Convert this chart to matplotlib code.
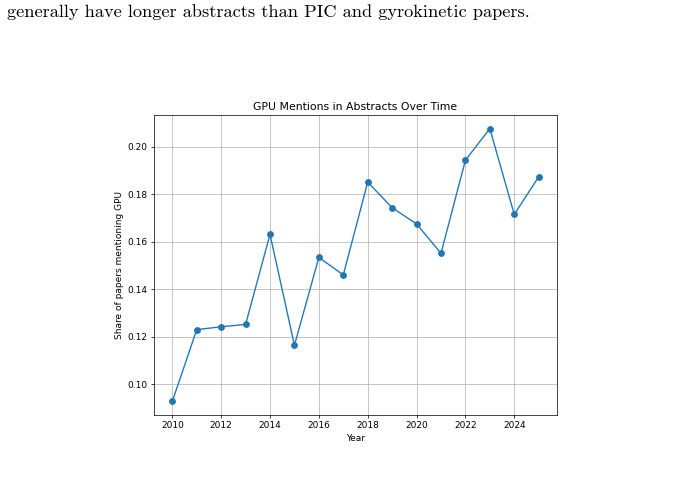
import matplotlib.pyplot as plt

years = [2010, 2011, 2012, 2013, 2014, 2015, 2016, 2017,
         2018, 2019, 2020, 2021, 2022, 2023, 2024, 2025]
gpu_share = [0.0929, 0.1231, 0.1243, 0.1253, 0.1632, 0.1165, 0.1535, 0.1461,
             0.1852, 0.1744, 0.1676, 0.1552, 0.1944, 0.2077, 0.1716, 0.1874]
caption = "generally have longer abstracts than PIC and gyrokinetic papers."

W, H = 675, 486
k = 0.65  # the plot was an 8x6 figure shrunk into the page
fig = plt.figure(figsize=(W / 100, H / 100), dpi=100)

# text of the page above the figure
fig.text(7 / W, 1 - 17 / H, caption, family='cmr10', fontsize=13.2,
         ha='left', va='baseline')

# axes placed in pixels: left 154, right 557, top 115, bottom 415
ax = fig.add_axes([154 / W, 1 - 415 / H, (557 - 154) / W, (415 - 115) / H])
ax.plot(years, gpu_share, marker='o', color='#1f77b4', lw=1.5 * k, ms=6 * k)
ax.set_title('GPU Mentions in Abstracts Over Time', fontsize=12 * k, pad=6 * k)
ax.set_xlabel('Year', fontsize=10 * k, labelpad=4 * k)
ax.set_ylabel('Share of papers mentioning GPU', fontsize=10 * k, labelpad=4 * k)
ax.tick_params(labelsize=10 * k, width=0.8 * k, length=3.5 * k, pad=3.5 * k)
ax.set_xticks(range(2010, 2025, 2))
ax.grid(True, lw=0.8 * k)
for s in ax.spines.values():
    s.set_linewidth(0.8 * k)

fig.savefig('out.png', dpi=100)
